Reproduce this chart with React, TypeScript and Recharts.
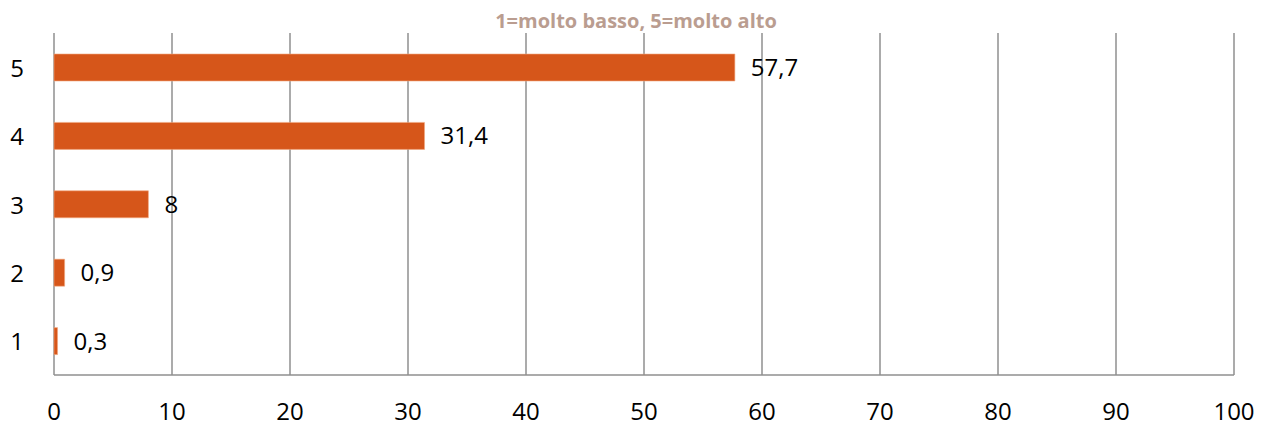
import { Bar, BarChart, CartesianGrid, LabelList, XAxis, YAxis } from 'recharts';

const categories = ['5', '4', '3', '2', '1'];
const values = [57.7, 31.4, 8, 0.9, 0.3];
const xTicks = [0, 10, 20, 30, 40, 50, 60, 70, 80, 90, 100];
const subtitle = '1=molto basso, 5=molto alto';

const data = categories.map((name, i) => ({ name, value: values[i] }));

const FONT = '"Open Sans", sans-serif';
const GRID = '#8f8f8f';

// eslint-disable-next-line @typescript-eslint/no-explicit-any
const CategoryTick = ({ y, payload }: any) => (
  <text x={9} y={y} textAnchor='middle' dominantBaseline='central' fontFamily={FONT} fontSize={24} fill='#000'>
    {payload.value}
  </text>
);

// eslint-disable-next-line @typescript-eslint/no-explicit-any
const ValueTick = ({ x, y, payload }: any) => (
  <text x={x} y={y + 27} textAnchor='middle' dominantBaseline='central' fontFamily={FONT} fontSize={24} fill='#000'>
    {payload.value}
  </text>
);

export default function App() {
  return (
    <BarChart
      width={1250}
      height={415}
      data={data}
      layout='vertical'
      margin={{ top: 25, right: 24, bottom: 0, left: 0 }}
    >
      <text x={628} y={12} textAnchor='middle' dominantBaseline='central' fontFamily={FONT} fontSize={20} fontWeight={700} fill='#BA9D90'>
        {subtitle}
      </text>
      <CartesianGrid horizontal={false} stroke={GRID} strokeWidth={1.5} />
      <XAxis
        type='number'
        domain={[0, 100]}
        ticks={xTicks}
        height={48}
        tickLine={false}
        axisLine={{ stroke: GRID, strokeWidth: 1.5 }}
        tick={<ValueTick />}
        interval={0}
      />
      <YAxis type='category' dataKey='name' width={46} tickLine={false} axisLine={false} tick={<CategoryTick />} />
      <Bar dataKey='value' fill='#D6561A' stroke='#F2A880' strokeWidth={0.6} barSize={27} isAnimationActive={false}>
        <LabelList
          dataKey='value'
          position='right'
          offset={16}
          formatter={(v: number) => String(v).replace('.', ',')}
          style={{ fontFamily: FONT, fontSize: 24, fill: '#000' }}
        />
      </Bar>
    </BarChart>
  );
}
